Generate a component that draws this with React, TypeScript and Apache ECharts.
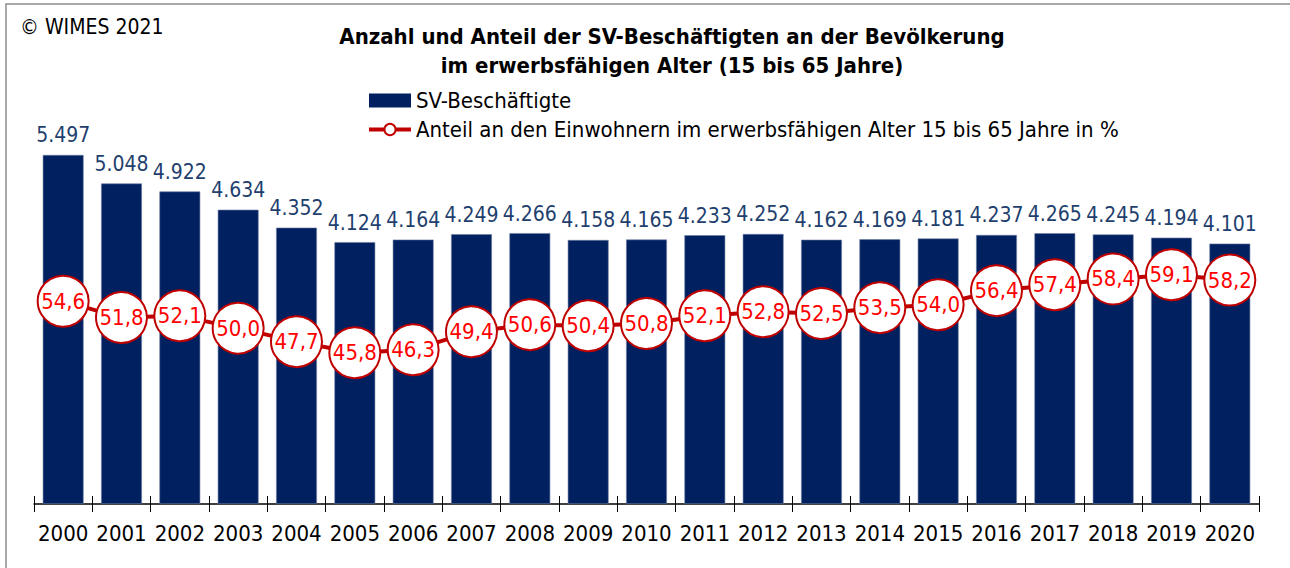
import React, { useEffect, useRef } from "react";
import * as echarts from "echarts";

const years = ["2000","2001","2002","2003","2004","2005","2006","2007","2008","2009","2010","2011","2012","2013","2014","2015","2016","2017","2018","2019","2020"];
const employees = [5497,5048,4922,4634,4352,4124,4164,4249,4266,4158,4165,4233,4252,4162,4169,4181,4237,4265,4245,4194,4101];
const share = [54.6,51.8,52.1,50.0,47.7,45.8,46.3,49.4,50.6,50.4,50.8,52.1,52.8,52.5,53.5,54.0,56.4,57.4,58.4,59.1,58.2];

const FONT = "'DejaVu Sans Condensed', 'DejaVu Sans', sans-serif";

export default function App() {
  const ref = useRef<HTMLDivElement>(null);
  useEffect(() => {
    document.body.style.margin = "0";
    const chart = echarts.init(ref.current!, null, { renderer: "svg" });
    chart.setOption({
      animation: false,
      backgroundColor: "#ffffff",
      textStyle: { fontFamily: FONT },
      title: {
        text: "Anzahl und Anteil der SV-Beschäftigten an der Bevölkerung\nim erwerbsfähigen Alter (15 bis 65 Jahre)",
        left: 667,
        top: 17,
        textAlign: "center",
        textStyle: { fontFamily: FONT, fontSize: 22, fontWeight: "bold", color: "#000", lineHeight: 29 },
      },
      graphic: [
        { type: "rect", shape: { x: 6, y: 4, width: 1400, height: 700 }, style: { fill: "none", stroke: "#8c8c8c", lineWidth: 1.5 }, silent: true },
        { type: "text", x: 20, y: 16, style: { text: "© WIMES 2021", fontFamily: FONT, fontSize: 21, fill: "#000" } },
      ],
      legend: {
        orient: "vertical",
        left: 362,
        top: 84,
        itemWidth: 42,
        itemHeight: 14,
        itemGap: 6,
        textStyle: { fontFamily: FONT, fontSize: 22, color: "#000", lineHeight: 23 },
        data: [
          { name: "SV-Beschäftigte", icon: "rect", itemStyle: { borderWidth: 0 } },
          {
            name: "Anteil an den Einwohnern im erwerbsfähigen Alter 15 bis 65 Jahre in %",
            lineStyle: { width: 4, color: "#c00000" },
            itemStyle: { color: "#ffffff", borderColor: "#c00000", borderWidth: 2 },
          },
        ],
      },
      grid: { left: 34, right: 31, top: 123, bottom: 64 },
      xAxis: [
        {
          type: "category",
          data: years,
          boundaryGap: true,
          axisLine: { lineStyle: { color: "#000", width: 1.5 } },
          axisTick: { show: true, length: 8, interval: 0, lineStyle: { color: "#000" } },
          axisLabel: { fontFamily: FONT, fontSize: 22, color: "#000", margin: 18, interval: 0 },
        },
        {
          type: "category",
          data: years,
          position: "bottom",
          boundaryGap: true,
          axisLine: { show: false },
          axisTick: { show: true, inside: true, length: 8, interval: 0, lineStyle: { color: "#000" } },
          axisLabel: { show: false },
        },
      ],
      yAxis: [
        { type: "value", min: 0, max: 6000, show: false, splitLine: { show: false } },
        { type: "value", min: 20, max: 85, show: false, splitLine: { show: false } },
      ],
      series: [
        {
          name: "SV-Beschäftigte",
          type: "bar",
          data: employees,
          barCategoryGap: "30%",
          itemStyle: { color: "#002060", borderColor: "#6f7fa3", borderWidth: 0.6 },
          label: {
            show: true,
            position: "top",
            distance: 9,
            fontFamily: FONT,
            fontSize: 21,
            color: "#1f3f6e",
            formatter: (p: any) => p.value.toLocaleString("de-DE"),
          },
        },
        {
          name: "Anteil an den Einwohnern im erwerbsfähigen Alter 15 bis 65 Jahre in %",
          type: "line",
          yAxisIndex: 1,
          data: share,
          symbol: "circle",
          symbolSize: 51,
          showAllSymbol: true,
          lineStyle: { color: "#c00000", width: 4 },
          itemStyle: { color: "#ffffff", borderColor: "#c00000", borderWidth: 2 },
          label: {
            show: true,
            position: "inside",
            fontFamily: FONT,
            fontSize: 22,
            color: "#ff0000",
            formatter: (p: any) => p.value.toFixed(1).replace(".", ","),
          },
          labelLayout: { hideOverlap: false },
          z: 5,
        },
      ],
    });
    return () => chart.dispose();
  }, []);
  return <div ref={ref} style={{ width: 1290, height: 568 }} />;
}
